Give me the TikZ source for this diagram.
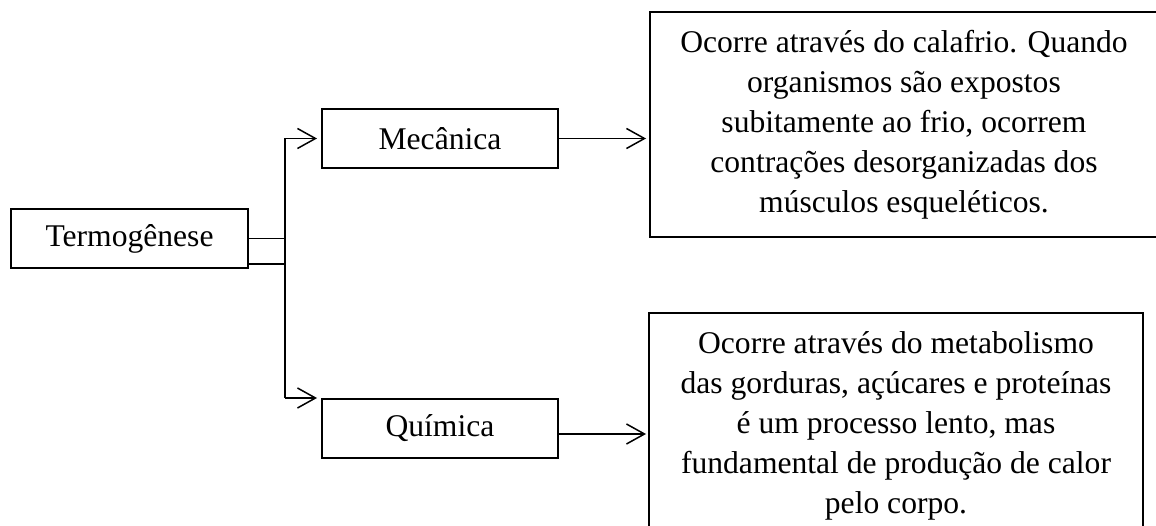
\documentclass[tikz,border=0pt]{standalone}
\usepackage{fontspec}
\setmainfont{Liberation Serif}
\usetikzlibrary{arrows.meta,calc}
\begin{document}
\begin{tikzpicture}[x=1pt,y=-1pt,
  box/.style={draw,line width=2pt,inner sep=0pt,align=center,font=\fontsize{31.6}{40}\selectfont},
  link/.style={line width=1.5pt},
  arr/.style={link,-{Straight Barb[length=18pt,width=20pt]}}]
\useasboundingbox (0,0) rectangle (1156,526);
\clip (0,0) rectangle (1156,526);
\node[box,minimum width=237pt,minimum height=59pt] (termo) at (129.5,238.5) {Termogênese};
\node[box,minimum width=236pt,minimum height=59pt] (mec) at (440,138.5) {Mecânica};
\node[box,minimum width=236pt,minimum height=59pt] (qui) at (440,428.5) {Química};
\node[box,minimum width=508pt,minimum height=225pt] (d1) at (904,124.5)
  {Ocorre através do calafrio. Quando\\organismos são expostos\\subitamente ao frio, ocorrem\\contrações desorganizadas dos\\músculos esqueléticos.};
\node[box,minimum width=494pt,minimum height=225pt] (d2) at (896,425.5)
  {Ocorre através do metabolismo\\das gorduras, açúcares e proteínas\\é um processo lento, mas\\fundamental de produção de calor\\pelo corpo.};
\coordinate (jt) at (285,138.5);
\coordinate (jb) at (285,398);
\coordinate (jm) at (285,238.5);
\coordinate (jl) at (285,264);
\draw[link] (termo.east) -- (jm);
\draw[link] (jl -| termo.east) -- (jl);
\draw[link] (jt) -- (jb);
\draw[arr,shorten >=4pt] (jt) -- (mec.west);
\draw[arr,shorten >=4pt] (jb) -- (jb -| qui.west);
\draw[arr,shorten >=3pt] (mec.east) -- (d1.west |- mec.east);
\coordinate (qo) at ($(qui.east)+(0,5.5)$);
\draw[arr,shorten >=2pt] (qo) -- (qo -| d2.west);
\end{tikzpicture}
\end{document}
